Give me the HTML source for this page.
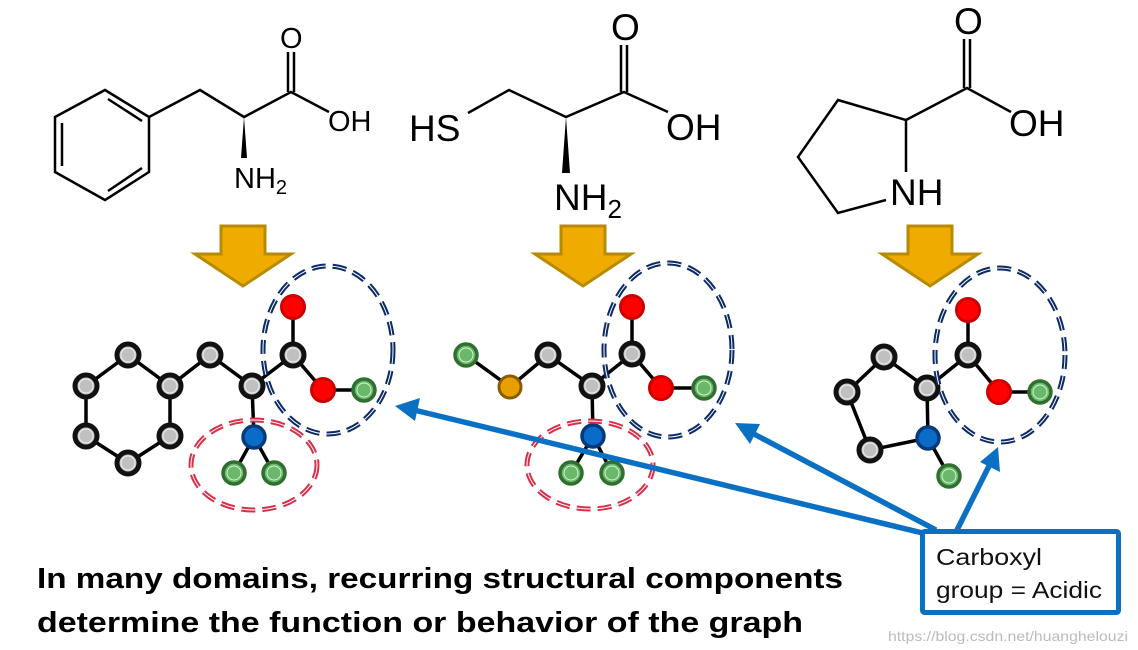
<!DOCTYPE html>
<html><head><meta charset="utf-8"><style>
html,body{margin:0;padding:0;background:#fff;}
svg{display:block;}
</style></head><body>
<svg width="1138" height="650" viewBox="0 0 1138 650" xmlns="http://www.w3.org/2000/svg" font-family="Liberation Sans, sans-serif">
<defs>
<g id="gn"><circle r="11" fill="#c0c0c0" stroke="#111" stroke-width="5"/><circle r="7" fill="none" stroke="#eee" stroke-width="1"/></g>
<g id="rn"><circle r="11.5" fill="#f00" stroke="#c00" stroke-width="3"/></g>
<g id="grn"><circle r="11" fill="#6ab86a" stroke="#2f6f2f" stroke-width="3.5"/><circle r="7" fill="none" stroke="#d8f0d8" stroke-width="1"/></g>
<g id="bn"><circle r="11" fill="#0b6bc8" stroke="#063a78" stroke-width="3.5"/></g>
<g id="on"><circle r="11" fill="#e8a000" stroke="#8a5a00" stroke-width="3"/></g>
<g id="ya"><polygon points="-22,0 22,0 22,28 48,28 0,60 -48,28 -22,28" fill="#f0ab00" stroke="#b88a00" stroke-width="3"/></g>
</defs>

<!-- top structures -->
<g stroke="#000" stroke-width="2.5" fill="none">
<polygon points="105,90 149,117 149,172 105,200 55,172 55,117"/>
<line x1="62" y1="123" x2="62" y2="166"/>
<line x1="108" y1="99" x2="142" y2="121"/>
<line x1="108" y1="191" x2="142" y2="168"/>
<polyline points="149,117 200,90 244,117 291,92 329,112"/>
<line x1="288" y1="92" x2="288" y2="52"/><line x1="294" y1="92" x2="294" y2="52"/>
<polyline points="468,113 509,90 566,117 624,92 668,112"/>
<line x1="621" y1="92" x2="621" y2="45"/><line x1="627" y1="92" x2="627" y2="45"/>
<polyline points="906,172 906,120 838,100 798,157 838,213 886,200"/>
<polyline points="906,120 967,88 1011,112"/>
<line x1="964" y1="88" x2="964" y2="39"/><line x1="970" y1="88" x2="970" y2="39"/>
</g>
<polygon points="244,117 241,158 247,158" fill="#000"/>
<polygon points="566,117 562,173 570,173" fill="#000"/>
<g fill="#000" font-size="29">
<text x="280" y="48">O</text>
<text x="328" y="131">OH</text>
<text x="234" y="188">NH<tspan font-size="20" dy="6">2</tspan></text>
</g>
<g fill="#000" font-size="37">
<text x="409" y="141">HS</text>
<text x="611" y="40">O</text>
<text x="666" y="140">OH</text>
<text x="554" y="210">NH<tspan font-size="26" dy="8">2</tspan></text>
<text x="954" y="34">O</text>
<text x="1009" y="136">OH</text>
<text x="890" y="205">NH</text>
</g>

<!-- yellow arrows -->
<use href="#ya" x="243" y="226"/>
<use href="#ya" x="583" y="226"/>
<use href="#ya" x="930" y="226"/>

<!-- molecule 1 graph -->
<g stroke="#000" stroke-width="3.5" fill="none">
<polygon points="128,355 170,386 170,436 128,463 86,436 86,386"/>
<polyline points="170,386 210,355 252,386 293,355 323,390 364,390"/>
<line x1="293" y1="355" x2="293" y2="307"/>
<polyline points="234,473 254,437 274,473"/><line x1="252" y1="386" x2="254" y2="437"/>
</g>
<use href="#gn" x="128" y="355"/><use href="#gn" x="170" y="386"/><use href="#gn" x="170" y="436"/>
<use href="#gn" x="128" y="463"/><use href="#gn" x="86" y="436"/><use href="#gn" x="86" y="386"/>
<use href="#gn" x="210" y="355"/><use href="#gn" x="252" y="386"/><use href="#gn" x="293" y="355"/>
<use href="#rn" x="293" y="307"/><use href="#rn" x="323" y="390"/><use href="#grn" x="364" y="390"/>
<use href="#bn" x="254" y="437"/><use href="#grn" x="234" y="473"/><use href="#grn" x="274" y="473"/>

<!-- molecule 2 graph -->
<g stroke="#000" stroke-width="3.5" fill="none">
<polyline points="466,355 510,387 548,355 592,386 632,354 661,388 704,388"/>
<line x1="632" y1="354" x2="632" y2="307"/>
<polyline points="571,473 593,436 612,473"/><line x1="592" y1="386" x2="593" y2="436"/>
</g>
<use href="#grn" x="466" y="355"/><use href="#on" x="510" y="387"/><use href="#gn" x="548" y="355"/>
<use href="#gn" x="592" y="386"/><use href="#gn" x="632" y="354"/><use href="#rn" x="632" y="307"/>
<use href="#rn" x="661" y="388"/><use href="#grn" x="704" y="388"/>
<use href="#bn" x="593" y="436"/><use href="#grn" x="571" y="473"/><use href="#grn" x="612" y="473"/>

<!-- molecule 3 graph -->
<g stroke="#000" stroke-width="3.5" fill="none">
<polygon points="884,357 927,388 928,438 870,450 847,392"/>
<polyline points="927,388 968,355 999,392 1040,392"/>
<line x1="968" y1="355" x2="968" y2="310"/>
<line x1="928" y1="438" x2="949" y2="476"/>
</g>
<use href="#gn" x="884" y="357"/><use href="#gn" x="927" y="388"/><use href="#gn" x="870" y="450"/>
<use href="#gn" x="847" y="392"/><use href="#bn" x="928" y="438"/><use href="#grn" x="949" y="476"/>
<use href="#gn" x="968" y="355"/><use href="#rn" x="968" y="310"/><use href="#rn" x="999" y="392"/><use href="#grn" x="1040" y="392"/>

<!-- dashed ellipses -->
<g fill="none" stroke-width="5" stroke-dasharray="14,7">
<ellipse cx="328" cy="350" rx="65" ry="84" stroke="#0b2a66"/>
<ellipse cx="668" cy="350" rx="64" ry="87" stroke="#0b2a66"/>
<ellipse cx="1000" cy="355" rx="65" ry="87" stroke="#0b2a66"/>
<ellipse cx="254" cy="465" rx="63" ry="45" stroke="#d8304a"/>
<ellipse cx="590" cy="465" rx="63" ry="44" stroke="#d8304a"/>
</g>
<g fill="none" stroke="#fff" stroke-width="1" stroke-dasharray="14,7">
<ellipse cx="328" cy="350" rx="65" ry="84"/>
<ellipse cx="668" cy="350" rx="64" ry="87"/>
<ellipse cx="1000" cy="355" rx="65" ry="87"/>
<ellipse cx="254" cy="465" rx="63" ry="45"/>
<ellipse cx="590" cy="465" rx="63" ry="44"/>
</g>

<!-- blue arrows -->
<g stroke="#0a70c4" stroke-width="5.5" fill="none">
<line x1="935" y1="536" x2="414" y2="410"/>
<line x1="936" y1="530" x2="752" y2="433"/>
<line x1="957" y1="530" x2="990" y2="464"/>
</g>
<g fill="#0a70c4">
<polygon points="395,406 420,398 415,421"/>
<polygon points="735,423 760,424 750,444"/>
<polygon points="998,447 1000,472 980,462"/>
</g>
<rect x="922.5" y="531.5" width="196" height="81" fill="#fff" stroke="#0a70c4" stroke-width="5" rx="2"/>
<g font-size="23" fill="#111">
<text x="936" y="565" textLength="106" lengthAdjust="spacingAndGlyphs">Carboxyl</text>
<text x="936" y="598" textLength="166" lengthAdjust="spacingAndGlyphs">group = Acidic</text>
</g>

<g font-size="29" font-weight="bold" fill="#000">
<text x="37" y="588" textLength="806" lengthAdjust="spacingAndGlyphs">In many domains, recurring structural components</text>
<text x="37" y="632" textLength="766" lengthAdjust="spacingAndGlyphs">determine the function or behavior of the graph</text>
</g>
<text x="888" y="641" font-size="14" fill="#bbb" textLength="240" lengthAdjust="spacingAndGlyphs">https://blog.csdn.net/huanghelouzi</text>
</svg>
</body></html>
